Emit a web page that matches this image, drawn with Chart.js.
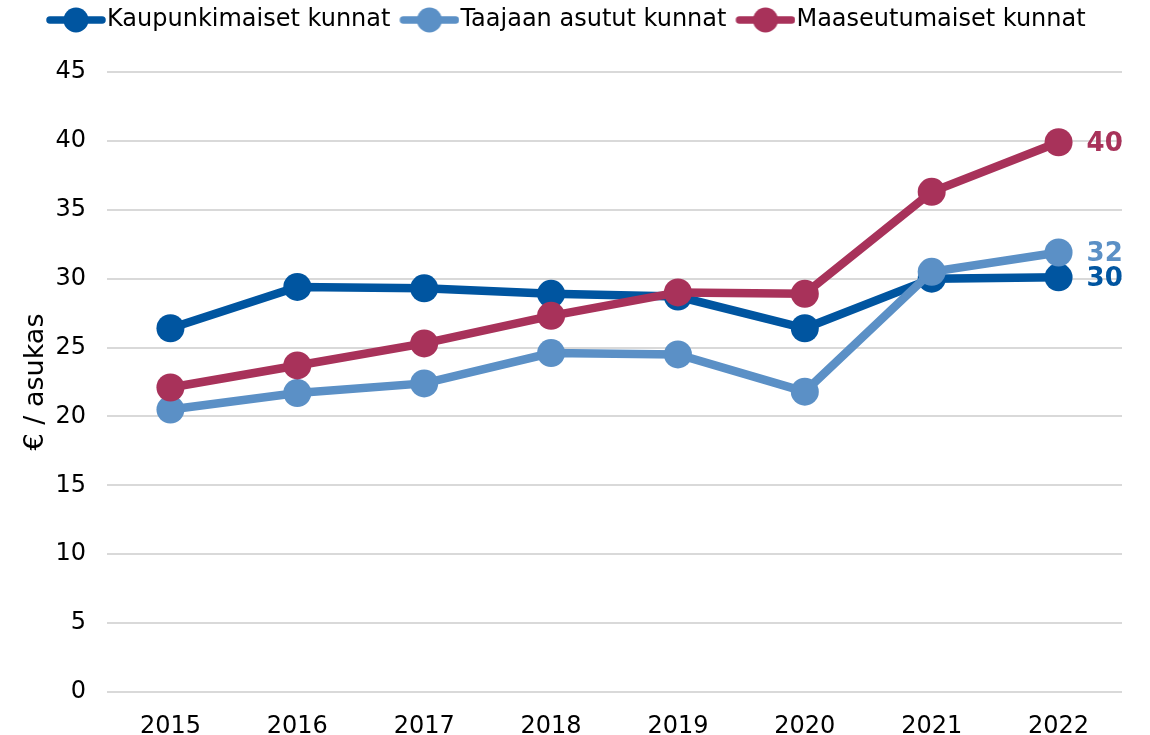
<!DOCTYPE html>
<html>
<head>
<meta charset="utf-8">
<script src="https://cdn.jsdelivr.net/npm/chart.js@4"></script>
<style>
  body { margin: 0; background: #fff; }
  #wrap { width: 1150px; height: 735px; position: relative; }
</style>
</head>
<body>
<div id="wrap"><canvas id="chart"></canvas></div>
<script>
const years = ["2015", "2016", "2017", "2018", "2019", "2020", "2021", "2022"];
const kaupunki = [26.4, 29.4, 29.3, 28.9, 28.7, 26.4, 30.0, 30.1];
const taajaan = [20.5, 21.7, 22.4, 24.6, 24.5, 21.8, 30.5, 31.9];
const maaseutu = [22.1, 23.7, 25.3, 27.3, 29.0, 28.9, 36.3, 39.9];
const endLabels = ["30", "32", "40"];

const colors = ["#0055a0", "#5b90c6", "#a8325a"];
const font = "Verdana, 'DejaVu Sans', sans-serif";

// line+dot image for the legend, drawn off-centre so it sits close to the text
function legendMark(color) {
    const c = document.createElement("canvas");
    c.width = 72; c.height = 28;
    const g = c.getContext("2d");
    g.strokeStyle = color;
    g.lineWidth = 7.5;
    g.lineCap = "round";
    g.beginPath(); g.moveTo(16, 14); g.lineTo(68, 14); g.stroke();
    g.fillStyle = color;
    g.beginPath(); g.arc(42, 14, 12.5, 0, Math.PI * 2); g.fill();
    return c;
}

function ds(label, data, color, order) {
    return {
        label: label,
        data: data,
        order: order,
        borderColor: color,
        backgroundColor: color,
        borderWidth: 8.5,
        pointRadius: 14,
        pointHoverRadius: 14,
        pointBackgroundColor: color,
        pointBorderWidth: 0,
        pointStyle: "circle",
        tension: 0
    };
}

// value labels right of the last point
const endLabelPlugin = {
    id: "endLabels",
    afterDatasetsDraw(chart) {
        const ctx = chart.ctx;
        ctx.save();
        ctx.font = "bold 26px " + font;
        ctx.textBaseline = "middle";
        ctx.textAlign = "left";
        chart.data.datasets.forEach((d, i) => {
            const meta = chart.getDatasetMeta(i);
            const pt = meta.data[meta.data.length - 1];
            ctx.fillStyle = colors[i];
            ctx.fillText(endLabels[i], pt.x + 28, pt.y + 2);
        });
        ctx.restore();
    }
};

// more room under the legend and nudge it right
const legendSpace = {
    id: "legendSpace",
    beforeInit(chart) {
        const fit = chart.legend.fit;
        chart.legend.fit = function () {
            fit.bind(chart.legend)();
            this.height += 30;
        };
    },
    afterLayout(chart) {
        chart.legend.left += 19;
    }
};

const chart = new Chart(document.getElementById("chart"), {
    type: "line",
    data: {
        labels: years,
        datasets: [
            ds("Kaupunkimaiset kunnat", kaupunki, colors[0], 3),
            ds("Taajaan asutut kunnat", taajaan, colors[1], 2),
            ds("Maaseutumaiset kunnat", maaseutu, colors[2], 1)
        ]
    },
    options: {
        responsive: true,
        maintainAspectRatio: false,
        animation: false,
        layout: { padding: { left: 18, right: 28, top: 0, bottom: 0 } },
        plugins: {
            tooltip: { enabled: false },
            legend: {
                position: "top",
                align: "start",
                labels: {
                    usePointStyle: true,
                    pointStyle: "circle",
                    pointStyleWidth: 50,
                    boxHeight: 24,
                    padding: 8,
                    color: "#000",
                    font: { family: font, size: 24 },
                    generateLabels(chart) {
                        return chart.data.datasets.map((d, i) => ({
                            text: d.label,
                            pointStyle: legendMark(colors[i]),
                            fillStyle: colors[i],
                            strokeStyle: colors[i],
                            lineWidth: 0,
                            fontColor: "#000",
                            datasetIndex: i
                        }));
                    }
                }
            }
        },
        scales: {
            x: {
                offset: true,
                grid: { display: false },
                border: { display: false },
                ticks: { color: "#000", font: { family: font, size: 24 }, padding: 12 },
                afterFit(scale) { scale.height = 43; }
            },
            y: {
                min: 0,
                max: 45,
                ticks: { stepSize: 5, color: "#000", font: { family: font, size: 24 }, padding: 21 },
                grid: { color: "#d9d9d9", lineWidth: 2, drawTicks: false },
                border: { display: false },
                title: {
                    display: true,
                    text: "€ / asukas",
                    color: "#000",
                    font: { family: font, size: 27 },
                    padding: { top: 2, bottom: 0 }
                },
                afterFit(scale) { scale.width = 89; }
            }
        }
    },
    plugins: [endLabelPlugin, legendSpace]
});
</script>
</body>
</html>
